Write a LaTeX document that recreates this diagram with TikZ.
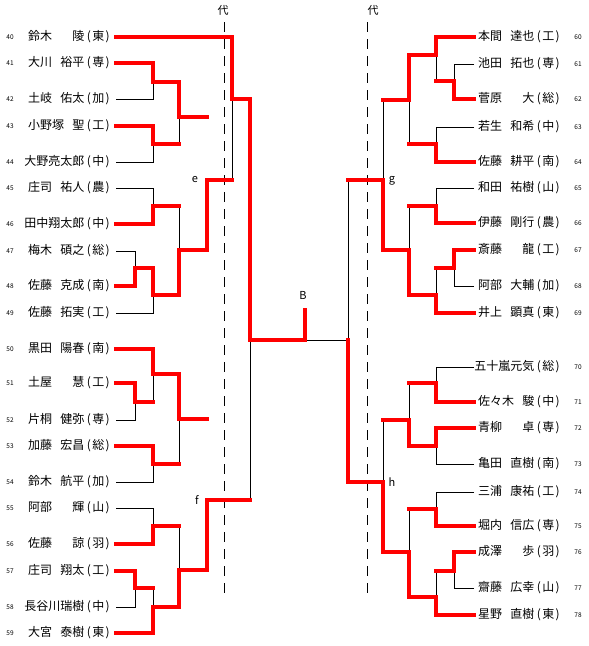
\documentclass[tikz,border=0pt]{standalone}
\usepackage{fontspec}
\newfontfamily\jp{Noto Sans CJK JP}
\newcommand\nm[2]{\makebox[4.7em][s]{#1\hfill#2}}
\newcommand\af[1]{\kern0.2em(\kern0.12em#1\kern0.12em)}
\begin{document}
\begin{tikzpicture}[x=1pt,y=-1pt,
  win/.style={red, line width=4.5pt, line join=miter, line cap=rect},
  lose/.style={black, line width=1pt},
  nmst/.style={font=\jp\fontsize{12}{13}\selectfont, inner sep=0pt},
  num/.style={font=\jp\fontsize{6.5}{7}\selectfont, inner sep=0pt},
  lbl/.style={font=\jp\fontsize{11}{12}\selectfont, inner sep=0pt},
  dsh/.style={black, line width=1pt, dash pattern=on 10pt off 7pt}]
\path[use as bounding box] (0,0) rectangle (589,646);

% ---------- left names ----------
\foreach \k/\y/\t in {
 40/37/{\nm{鈴木}{陵}\af{東}},
 41/63/{\nm{大川}{裕平}\af{専}},
 42/99/{\nm{土岐}{佑太}\af{加}},
 43/126/{\nm{小野塚}{聖}\af{工}},
 44/162/{大野亮太郎\af{中}},
 45/188/{\nm{庄司}{祐人}\af{農}},
 46/224/{田中翔太郎\af{中}},
 47/251/{\nm{梅木}{碩之}\af{総}},
 48/286/{\nm{佐藤}{克成}\af{南}},
 49/313/{\nm{佐藤}{拓実}\af{工}},
 50/349/{\nm{黒田}{陽春}\af{南}},
 51/383/{\nm{土屋}{慧}\af{工}},
 52/420/{\nm{片桐}{健弥}\af{専}},
 53/446/{\nm{加藤}{宏昌}\af{総}},
 54/482/{\nm{鈴木}{航平}\af{加}},
 55/508/{\nm{阿部}{輝}\af{山}},
 56/544/{\nm{佐藤}{諒}\af{羽}},
 57/571/{\nm{庄司}{翔太}\af{工}},
 58/607/{長谷川瑞樹\af{中}},
 59/633/{\nm{大宮}{泰樹}\af{東}}}{
  \node[nmst, anchor=east] (n\k) at (110,\y) {\t};
  \node[num] (k\k) at (10,\y) {\k};
}
% ---------- right names ----------
\foreach \k/\y/\t in {
 60/37/{\nm{本間}{達也}\af{工}},
 61/64/{\nm{池田}{拓也}\af{専}},
 62/99/{\nm{菅原}{大}\af{総}},
 63/127/{\nm{若生}{和希}\af{中}},
 64/162/{\nm{佐藤}{耕平}\af{南}},
 65/188/{\nm{和田}{祐樹}\af{山}},
 66/223/{\nm{伊藤}{剛行}\af{農}},
 67/250/{\nm{斎藤}{龍}\af{工}},
 68/286/{\nm{阿部}{大輔}\af{加}},
 69/313/{\nm{井上}{顕真}\af{東}},
 70/367/{五十嵐元気\af{総}},
 71/402/{\nm{佐々木}{駿}\af{中}},
 72/428/{\nm{青柳}{卓}\af{専}},
 73/464/{\nm{亀田}{直樹}\af{南}},
 74/492/{\nm{三浦}{康祐}\af{工}},
 75/526/{\nm{堀内}{信広}\af{専}},
 76/552/{\nm{成澤}{歩}\af{羽}},
 77/588/{\nm{齋藤}{広幸}\af{山}},
 78/615/{\nm{星野}{直樹}\af{東}}}{
  \node[nmst, anchor=east] (n\k) at (560,\y) {\t};
  \node[num] (k\k) at (578,\y) {\k};
}

% ---------- labels ----------
\node[lbl] (dl) at (223,10) {代};
\node[lbl] (dr) at (373,10) {代};
\node[lbl] (le) at (195,180) {e};
\node[lbl] (lf) at (197,500) {f};
\node[lbl] (lg) at (392,181) {g};
\node[lbl] (lh) at (392,482) {h};
\node[lbl] (lB) at (303,295) {B};

% ---------- dashed substitute lines ----------
\draw[dsh] (224,22) -- (224,597);
\draw[dsh] (367,22) -- (367,593);

% ---------- left: lost lines ----------
\draw[lose] (116,99) -| (153,82);
\draw[lose] (116,162) -| (153,144);
\draw[lose] (179,117) -- (179,144);
\draw[lose] (116,188) -| (153,206);
\draw[lose] (179,206) -- (179,250);
\draw[lose] (116,251) -| (135,268);
\draw[lose] (116,313) -| (153,295);
\draw[lose] (232,99) -- (232,180);
\draw[lose] (116,420) -| (135,402);
\draw[lose] (153,374) -- (153,402);
\draw[lose] (179,419) -- (179,464);
\draw[lose] (116,482) -| (153,464);
\draw[lose] (116,508) -| (153,526);
\draw[lose] (179,526) -- (179,570);
\draw[lose] (116,607) -| (135,588);
\draw[lose] (153,588) -- (153,607);
\draw[lose] (250,340) -- (250,500);
\draw[lose] (305,340) -- (348,340);

% ---------- right: lost lines ----------
\draw[lose] (474,64) -| (454,81);
\draw[lose] (436,55) -- (436,81);
\draw[lose] (474,127) -| (436,144);
\draw[lose] (409,100) -- (409,144);
\draw[lose] (383,100) -- (383,180);
\draw[lose] (474,188) -| (436,206);
\draw[lose] (409,206) -- (409,250);
\draw[lose] (474,286) -| (454,268);
\draw[lose] (436,268) -- (436,295);
\draw[lose] (348,180) -- (348,340);
\draw[lose] (474,367) -| (436,383);
\draw[lose] (409,383) -- (409,420);
\draw[lose] (474,464) -| (436,446);
\draw[lose] (383,420) -- (383,482);
\draw[lose] (474,492) -| (436,509);
\draw[lose] (409,509) -- (409,552);
\draw[lose] (474,588) -| (454,571);
\draw[lose] (436,571) -- (436,597);

% ---------- left: winning paths ----------
\draw[win] (116,37) -- (232,37) -- (232,99) -- (250,99) -- (250,340) -- (305,340) -- (305,310);
\draw[win] (116,63) -- (153,63) -- (153,82) -- (179,82) -- (179,117) -- (207,117);
\draw[win] (116,126) -- (153,126) -- (153,144) -- (179,144);
\draw[win] (116,224) -- (153,224) -- (153,206) -- (179,206);
\draw[win] (116,286) -- (135,286) -- (135,268) -- (153,268) -- (153,295) -- (179,295) -- (179,250) -- (207,250) -- (207,180) -- (232,180);
\draw[win] (116,349) -- (153,349) -- (153,374) -- (179,374) -- (179,419) -- (207,419);
\draw[win] (116,383) -- (135,383) -- (135,402) -- (153,402);
\draw[win] (116,446) -- (153,446) -- (153,464) -- (179,464);
\draw[win] (116,544) -- (153,544) -- (153,526) -- (179,526);
\draw[win] (116,571) -- (135,571) -- (135,588) -- (153,588);
\draw[win] (116,633) -- (153,633) -- (153,607) -- (179,607) -- (179,570) -- (207,570) -- (207,500) -- (250,500);

% ---------- right: winning paths ----------
\draw[win] (474,37) -- (436,37) -- (436,55) -- (409,55) -- (409,100) -- (383,100);
\draw[win] (474,99) -- (454,99) -- (454,81) -- (436,81);
\draw[win] (474,162) -- (436,162) -- (436,144) -- (409,144);
\draw[win] (474,223) -- (436,223) -- (436,206) -- (409,206);
\draw[win] (474,250) -- (454,250) -- (454,268) -- (436,268);
\draw[win] (474,313) -- (436,313) -- (436,295) -- (409,295) -- (409,250) -- (383,250) -- (383,180) -- (348,180);
\draw[win] (474,402) -- (436,402) -- (436,383) -- (409,383);
\draw[win] (474,428) -- (436,428) -- (436,446) -- (409,446) -- (409,420) -- (383,420);
\draw[win] (474,526) -- (436,526) -- (436,509) -- (409,509);
\draw[win] (474,552) -- (454,552) -- (454,571) -- (436,571);
\draw[win] (474,615) -- (436,615) -- (436,597) -- (409,597) -- (409,552) -- (383,552) -- (383,482) -- (348,482) -- (348,340);
\end{tikzpicture}
\end{document}
